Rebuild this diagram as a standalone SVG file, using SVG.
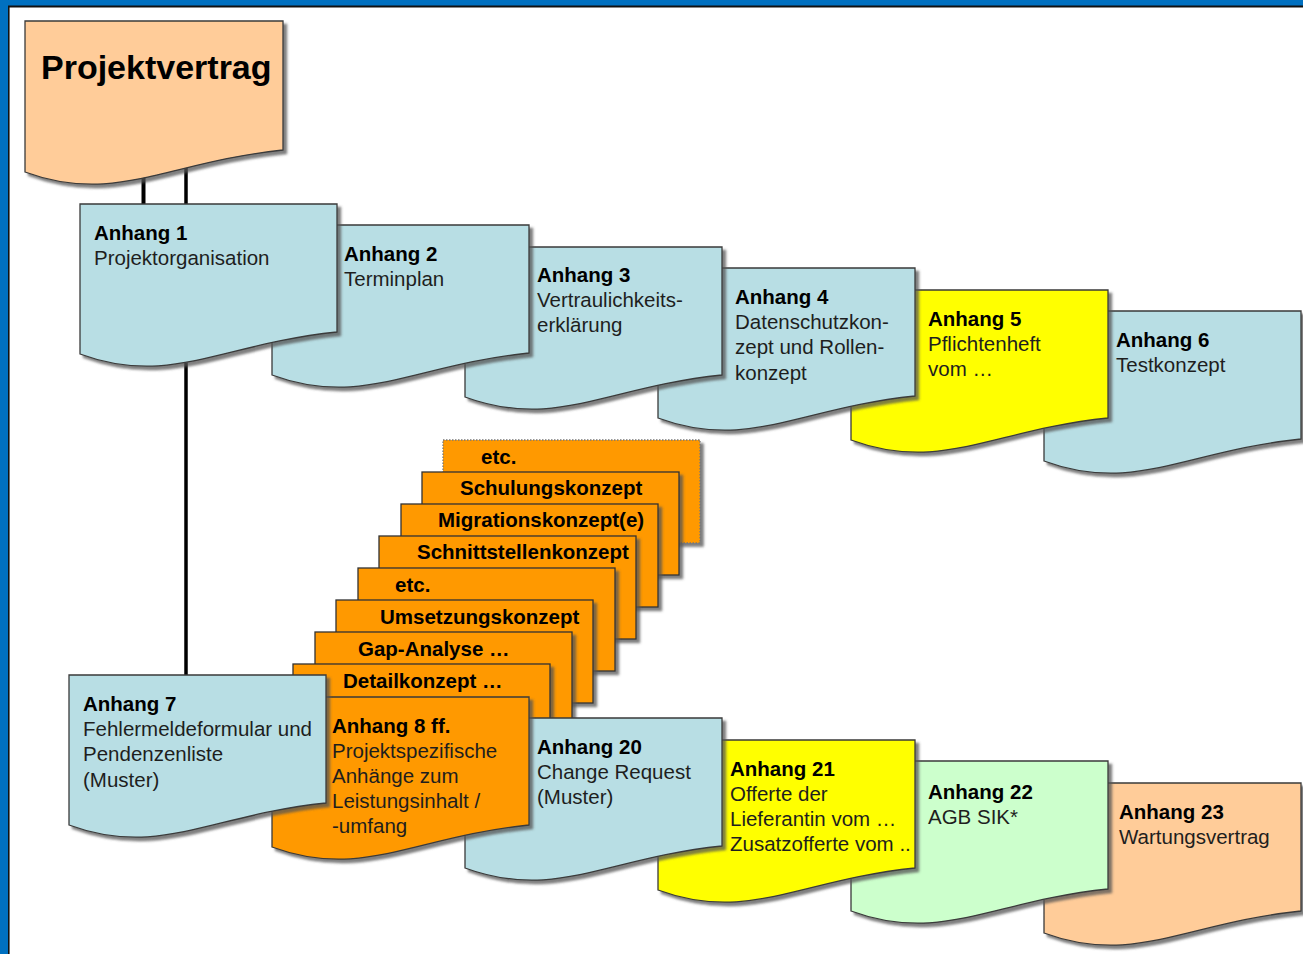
<svg xmlns="http://www.w3.org/2000/svg" xmlns:xlink="http://www.w3.org/1999/xlink" width="1303" height="954" viewBox="0 0 1303 954">
<style>
.doc{stroke:#3a3a3a;stroke-width:1.3;filter:url(#sh)}
.blue{fill:#B8DEE4}
.yel{fill:#FFFF00}
.grn{fill:#CCFFCC}
.pch{fill:#FFCC99}
.org{fill:#FF9900}
.t{font-family:"Liberation Sans",Arial,sans-serif;font-size:20.5px;fill:#1e1e1e}
.b{font-weight:bold;fill:#000}
.st{fill:#FF9900;stroke:#333;stroke-width:1.3;filter:url(#sh)}
.sl{font-family:"Liberation Sans",Arial,sans-serif;font-size:20.5px;font-weight:bold;fill:#000}
.con{stroke:#000;fill:none}
</style>
<defs>
<filter id="sh" x="-5%" y="-5%" width="115%" height="120%">
<feDropShadow dx="3.5" dy="3.5" stdDeviation="1" flood-color="#555" flood-opacity="0.75"/>
</filter>
<path id="doc" d="M0,0 H257 V128 C141,140 90,183 0,150 Z"/>
</defs>
<rect x="0" y="0" width="1303" height="954" fill="#fff"/>
<rect x="0" y="0" width="1303" height="6" fill="#0070C0"/>
<rect x="0" y="0" width="8" height="954" fill="#0070C0"/>
<line x1="8" y1="6.5" x2="1303" y2="6.5" stroke="#111" stroke-width="1.8"/>
<line x1="8.8" y1="6" x2="8.8" y2="954" stroke="#111" stroke-width="1.6"/>

<g id="connectors">
<line class="con" x1="143.5" y1="170" x2="143.5" y2="205" stroke-width="4"/>
<line class="con" x1="186" y1="160" x2="186" y2="676" stroke-width="3.5"/>
</g>

<g id="projektvertrag">
<path class="doc pch" d="M25,21 H283 V150 C167,162 115,205 25,172 Z"/>
<text class="t b" x="41" y="79" style="font-size:34px">Projektvertrag</text>
</g>

<g id="anhang6">
<use href="#doc" x="1044" y="311" class="doc blue"/>
<text class="t" x="1116" y="346.5"><tspan class="b">Anhang 6</tspan><tspan x="1116" dy="25.2">Testkonzept</tspan></text>
</g>
<g id="anhang5">
<use href="#doc" x="851" y="290" class="doc yel"/>
<text class="t" x="928" y="325.5"><tspan class="b">Anhang 5</tspan><tspan x="928" dy="25.2">Pflichtenheft</tspan><tspan x="928" dy="25.2">vom …</tspan></text>
</g>
<g id="anhang4">
<use href="#doc" x="658" y="268" class="doc blue"/>
<text class="t" x="735" y="304"><tspan class="b">Anhang 4</tspan><tspan x="735" dy="25.2">Datenschutzkon-</tspan><tspan x="735" dy="25.2">zept und Rollen-</tspan><tspan x="735" dy="25.2">konzept</tspan></text>
</g>
<g id="anhang3">
<use href="#doc" x="465" y="247" class="doc blue"/>
<text class="t" x="537" y="282"><tspan class="b">Anhang 3</tspan><tspan x="537" dy="25.2">Vertraulichkeits-</tspan><tspan x="537" dy="25.2">erklärung</tspan></text>
</g>
<g id="anhang2">
<use href="#doc" x="272" y="225" class="doc blue"/>
<text class="t" x="344" y="260.5"><tspan class="b">Anhang 2</tspan><tspan x="344" dy="25.2">Terminplan</tspan></text>
</g>
<g id="anhang1">
<use href="#doc" x="80" y="204" class="doc blue"/>
<text class="t" x="94" y="239.5"><tspan class="b">Anhang 1</tspan><tspan x="94" dy="25.2">Projektorganisation</tspan></text>
</g>

<g id="stack">
<g id="s-etc-back"><rect x="443" y="440" width="257" height="103" class="st" style="stroke:#777;stroke-dasharray:1.5 1.5"/><text class="sl" x="481" y="463.5">etc.</text></g>
<g id="s-schulung"><rect x="422" y="472" width="257" height="103" class="st"/><text class="sl" x="460" y="494.5">Schulungskonzept</text></g>
<g id="s-migration"><rect x="401" y="504" width="257" height="103" class="st"/><text class="sl" x="438" y="527">Migrationskonzept(e)</text></g>
<g id="s-schnitt"><rect x="379" y="536" width="257" height="103" class="st"/><text class="sl" x="417" y="559">Schnittstellenkonzept</text></g>
<g id="s-etc"><rect x="358" y="568" width="257" height="103" class="st"/><text class="sl" x="395" y="591.5">etc.</text></g>
<g id="s-umsetzung"><rect x="336" y="600" width="257" height="103" class="st"/><text class="sl" x="380" y="623.5">Umsetzungskonzept</text></g>
<g id="s-gap"><rect x="315" y="632" width="257" height="103" class="st"/><text class="sl" x="358" y="656">Gap-Analyse …</text></g>
<g id="s-detail"><rect x="293" y="664" width="257" height="103" class="st"/><text class="sl" x="343" y="688">Detailkonzept …</text></g>
</g>

<g id="anhang23">
<use href="#doc" x="1044" y="783" class="doc pch"/>
<text class="t" x="1119" y="818.5"><tspan class="b">Anhang 23</tspan><tspan x="1119" dy="25.2">Wartungsvertrag</tspan></text>
</g>
<g id="anhang22">
<use href="#doc" x="851" y="761" class="doc grn"/>
<text class="t" x="928" y="799"><tspan class="b">Anhang 22</tspan><tspan x="928" dy="25.2">AGB SIK*</tspan></text>
</g>
<g id="anhang21">
<use href="#doc" x="658" y="740" class="doc yel"/>
<text class="t" x="730" y="775.5"><tspan class="b">Anhang 21</tspan><tspan x="730" dy="25.2">Offerte der</tspan><tspan x="730" dy="25.2">Lieferantin vom …</tspan><tspan x="730" dy="25.2">Zusatzofferte vom ..</tspan></text>
</g>
<g id="anhang20">
<use href="#doc" x="465" y="718" class="doc blue"/>
<text class="t" x="537" y="753.5"><tspan class="b">Anhang 20</tspan><tspan x="537" dy="25.2">Change Request</tspan><tspan x="537" dy="25.2">(Muster)</tspan></text>
</g>
<g id="anhang8">
<use href="#doc" x="272" y="697" class="doc org"/>
<text class="t" x="332" y="732.5"><tspan class="b">Anhang 8 ff.</tspan><tspan x="332" dy="25.2">Projektspezifische</tspan><tspan x="332" dy="25.2">Anhänge zum</tspan><tspan x="332" dy="25.2">Leistungsinhalt /</tspan><tspan x="332" dy="25.2">-umfang</tspan></text>
</g>
<g id="anhang7">
<use href="#doc" x="69" y="675" class="doc blue"/>
<text class="t" x="83" y="711"><tspan class="b">Anhang 7</tspan><tspan x="83" dy="25.2">Fehlermeldeformular und</tspan><tspan x="83" dy="25.2">Pendenzenliste</tspan><tspan x="83" dy="25.2">(Muster)</tspan></text>
</g>
</svg>
